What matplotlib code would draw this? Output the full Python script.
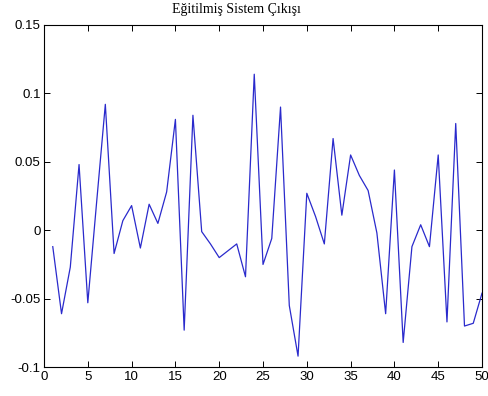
import matplotlib
matplotlib.use('Agg')
import matplotlib.pyplot as plt

steps = list(range(1, 51))
outputs = [-0.012, -0.061, -0.027, 0.048, -0.053, 0.020, 0.092, -0.017, 0.007, 0.018,
           -0.013, 0.019, 0.005, 0.028, 0.081, -0.073, 0.084, -0.001, -0.010, -0.020,
           -0.015, -0.010, -0.034, 0.114, -0.025, -0.006, 0.090, -0.055, -0.092, 0.027,
           0.010, -0.010, 0.067, 0.011, 0.055, 0.040, 0.029, -0.002, -0.061, 0.044,
           -0.082, -0.012, 0.004, -0.012, 0.055, -0.067, 0.078, -0.070, -0.068, -0.046]
xticks = [0, 5, 10, 15, 20, 25, 30, 35, 40, 45, 50]
yticks = [-0.1, -0.05, 0, 0.05, 0.1, 0.15]
ylabels = ['-0.1', '-0.05', '0', '0.05', '0.1', '0.15']

plt.rcParams['font.family'] = ['Liberation Sans', 'DejaVu Sans']

fig = plt.figure(figsize=(4.89, 3.96), dpi=100)
ax = fig.add_axes([0.09, 0.073, 0.8957, 0.864])
ax.plot(steps, outputs, color='#2a2acc', linewidth=0.9)
ax.set_xlim(0, 50)
ax.set_ylim(-0.1, 0.15)
ax.set_xticks(xticks)
ax.set_xticklabels([str(t) for t in xticks])
ax.set_yticks(yticks)
ax.set_yticklabels(ylabels)
ax.tick_params(direction='in', top=True, right=True, labelsize=9.5, length=4, width=0.7, pad=2.5)
for s in ax.spines.values():
    s.set_linewidth(0.8)
# title sits a little left of centre in the original
fig.text(0.483, 0.977, 'Eğitilmiş Sistem Çıkışı', family=['Liberation Serif', 'DejaVu Serif'],
         fontsize=10, ha='center', va='center')

fig.savefig('out.png', dpi=100)
